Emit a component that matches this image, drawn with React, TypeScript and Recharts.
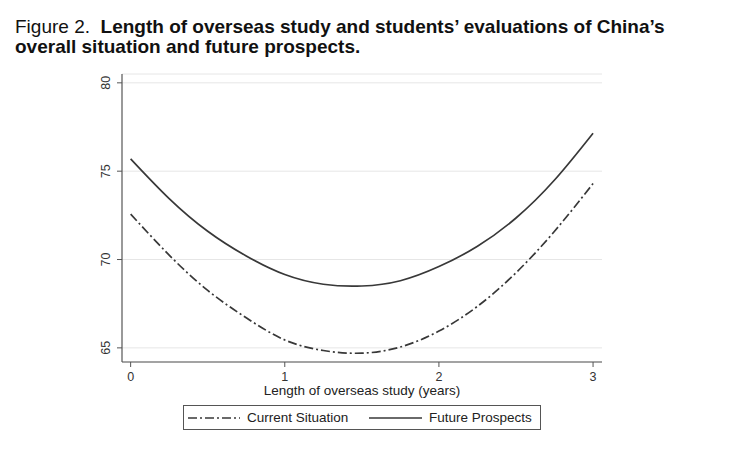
import { CartesianGrid, Line, LineChart, XAxis, YAxis, Label } from 'recharts'

const years = [0, 0.25, 0.5, 0.75, 1, 1.25, 1.5, 1.75, 2, 2.25, 2.5, 2.75, 3]
const currentSituation = [72.57, 70.25, 68.25, 66.7, 65.45, 64.85, 64.7, 65.05, 65.95, 67.35, 69.25, 71.6, 74.3]
const futureProspects = [75.7, 73.45, 71.6, 70.2, 69.15, 68.6, 68.5, 68.8, 69.6, 70.75, 72.35, 74.5, 77.15]
const xTicks = [0, 1, 2, 3]
const yTicks = [65, 70, 75, 80]

const data = years.map((x, i) => ({ x, current: currentSituation[i], future: futureProspects[i] }))

const FONT = '"Liberation Sans", Arial, sans-serif'
const INK = '#383838'
const DASH_DOT = '9 3 2 3'

function YTick({ x, y, payload }: any) {
  const bx = x - 5
  return (
    <text
      x={bx}
      y={y}
      transform={`rotate(-90 ${bx} ${y})`}
      textAnchor="middle"
      fontSize={12.5}
      fontFamily={FONT}
      fill="#333"
    >
      {payload.value}
    </text>
  )
}

function LegendBox() {
  return (
    <div
      style={{
        position: 'absolute',
        left: 183,
        top: 405,
        width: 356,
        height: 23,
        border: '1px solid #555',
        display: 'flex',
        alignItems: 'center',
        fontFamily: FONT,
        fontSize: 13.5,
        color: '#222',
        boxSizing: 'content-box',
      }}
    >
      <svg width={59} height={10} style={{ marginLeft: 4 }}>
        <line x1={0} y1={5} x2={52} y2={5} stroke={INK} strokeWidth={1.7} strokeDasharray={DASH_DOT} />
      </svg>
      <span style={{ width: 122 }}>Current Situation</span>
      <svg width={60} height={10}>
        <line x1={0} y1={5} x2={53} y2={5} stroke={INK} strokeWidth={1.7} />
      </svg>
      <span>Future Prospects</span>
    </div>
  )
}

export default function App() {
  return (
    <div style={{ position: 'absolute', left: 0, top: 0, width: 743, height: 465, background: '#fff' }}>
      <div
        style={{
          position: 'absolute',
          left: 15,
          top: 17,
          fontFamily: FONT,
          fontSize: 19,
          lineHeight: '20px',
          color: '#111',
          whiteSpace: 'nowrap',
        }}
      >
        <div>
          Figure 2.&nbsp; <b>Length of overseas study and students’ evaluations of China’s</b>
        </div>
        <div>
          <b>overall situation and future prospects.</b>
        </div>
      </div>
      <div style={{ position: 'absolute', left: 0, top: 0 }}>
        <LineChart width={743} height={465} data={data} margin={{ top: 74, right: 141, bottom: 73, left: 80 }}>
          <CartesianGrid vertical={false} stroke="#e6e6e6" strokeWidth={1} />
          <XAxis
            dataKey="x"
            type="number"
            domain={[-0.056, 3.058]}
            ticks={xTicks}
            height={30}
            tickSize={5}
            tickLine={{ stroke: '#555' }}
            axisLine={{ stroke: '#555', strokeWidth: 1.2 }}
            tick={{ fontSize: 12.5, fontFamily: FONT, fill: '#333' }}
            tickMargin={5}
          >
            <Label
              value="Length of overseas study (years)"
              position="insideBottom"
              offset={-3}
              style={{ fontSize: 13.5, fontFamily: FONT, fill: '#222' }}
            />
          </XAxis>
          <YAxis
            type="number"
            domain={[64.2, 80.5]}
            ticks={yTicks}
            width={42}
            tickSize={5}
            tickLine={{ stroke: '#555' }}
            axisLine={{ stroke: '#555', strokeWidth: 1.2 }}
            tick={<YTick />}
            allowDataOverflow
          />
          <Line
            type="natural"
            dataKey="current"
            stroke={INK}
            strokeWidth={1.7}
            strokeDasharray={DASH_DOT}
            dot={false}
            isAnimationActive={false}
          />
          <Line
            type="natural"
            dataKey="future"
            stroke={INK}
            strokeWidth={1.7}
            dot={false}
            isAnimationActive={false}
          />
        </LineChart>
      </div>
      <LegendBox />
    </div>
  )
}
